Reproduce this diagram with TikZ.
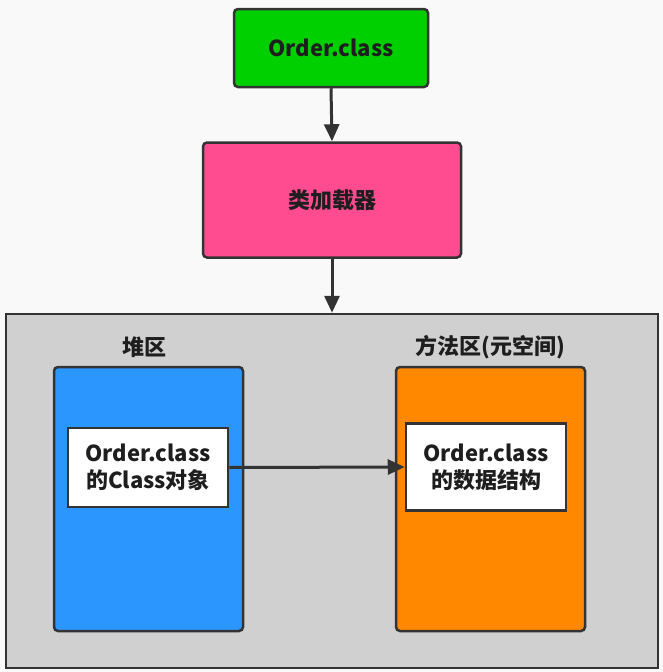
\documentclass[tikz,border=0pt]{standalone}
\usepackage{fontspec}
\setmainfont{Noto Sans CJK SC}
\usepackage{xcolor}
\usepackage{tikz}
\usetikzlibrary{
  arrows.meta,
  positioning,
  calc
}
\definecolor{pagebg}{RGB}{249,249,249}
\definecolor{edgegray}{RGB}{51,51,51}
\definecolor{filegreen}{RGB}{0,208,0}
\definecolor{loaderpink}{RGB}{255,75,143}
\definecolor{heapblue}{RGB}{44,150,255}
\definecolor{methodorange}{RGB}{255,136,0}
\definecolor{jvmgray}{RGB}{208,208,208}
\definecolor{labeltext}{RGB}{30,30,30}
\tikzset{
  areabox/.style={
    draw=edgegray,
    line width=2.5pt,
    rounded corners=4pt,
    align=center,
    inner sep=0pt,
    text=labeltext,
    font=\fontsize{22}{27}\selectfont\bfseries
  },
  filebox/.style={areabox,fill=filegreen,minimum width=194pt,minimum height=78pt},
  loaderbox/.style={areabox,fill=loaderpink,minimum width=258pt,minimum height=115pt},
  jvmbox/.style={areabox,fill=jvmgray,rounded corners=0pt,minimum width=652pt,minimum height=354pt},
  heapbox/.style={areabox,fill=heapblue,minimum width=189pt,minimum height=264pt},
  methodbox/.style={areabox,fill=methodorange,minimum width=189pt,minimum height=264pt},
  innerbox/.style={areabox,fill=white,rounded corners=0pt,minimum width=160pt},
  arealabel/.style={text=labeltext,font=\fontsize{22}{27}\selectfont\bfseries},
  flowarrow/.style={-{Triangle[length=17pt,width=15pt]},line width=3pt,draw=edgegray},
}
\begin{document}
\begin{tikzpicture}[x=1pt,y=-1pt]
  \fill[pagebg] (0,0) rectangle (663,672);
  \useasboundingbox (0,0) rectangle (663,672);

  % Loading chain
  \node[filebox] (orderfile) at (331,48) {Order.class};
  \node[loaderbox] (classloader) at (332,200) {类加载器};

  % Runtime data areas
  \node[jvmbox] (jvm) at (332,491) {};
  \node[heapbox] (heap) at (148.5,499) {};
  \node[methodbox] (method) at (490.5,499) {};
  \node[arealabel] (heaplabel) at (144,347) {堆区};
  \node[arealabel] (methodlabel) at (490,347) {方法区(元空间)};
  \node[innerbox,minimum height=79pt] (classobj) at (148,467.5) {Order.class\\的Class对象};
  \node[innerbox,minimum height=87pt] (classdata) at (486,467) {Order.class\\的数据结构};

  % Arrows
  \draw[flowarrow] (orderfile.south) -- (classloader.north);
  \draw[flowarrow] (classloader.south) -- (jvm.north);
  \draw[flowarrow] (classobj.east) -- (classdata.west);
\end{tikzpicture}
\end{document}
